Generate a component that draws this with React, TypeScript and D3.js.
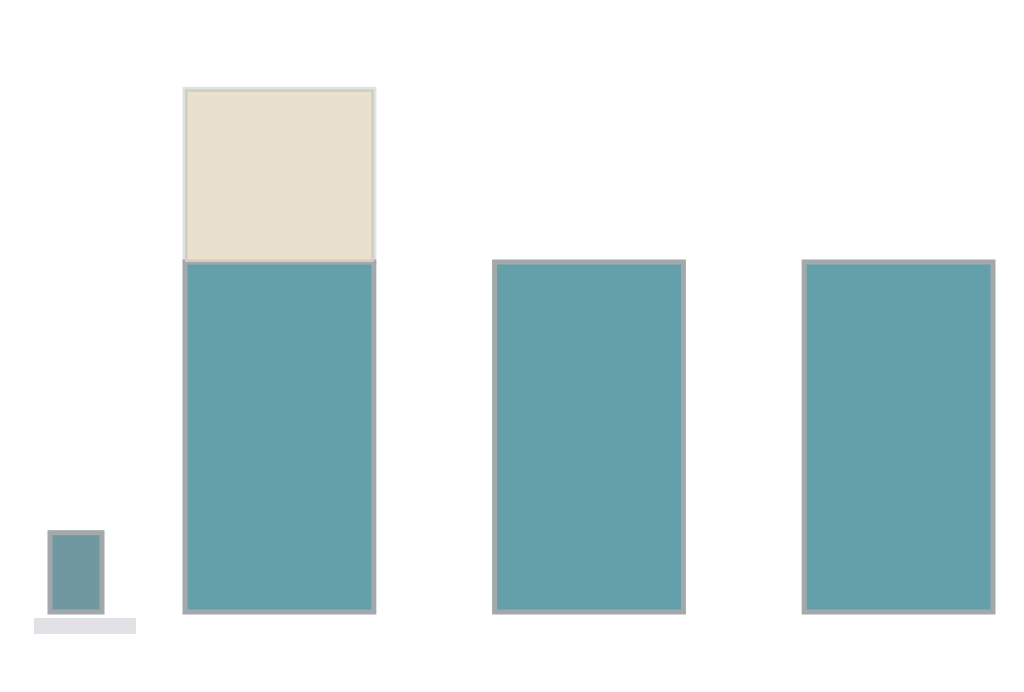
import React from "react";
import * as d3 from "d3";

const categories = ["B", "C", "D"];
const tealValues = [75, 75, 75];
const beigeValues = [37, 0, 0];
const smallCategories = ["A"];
const smallValues = [17];

const W = 1024;
const H = 692;
const TEAL = "#63a0aa";
const BEIGE = "#e9e0cd";
const STROKE = "#a3a9ab";

export default function App() {
  const y = d3.scaleLinear().domain([0, 120]).range([612, 52]);
  const x = d3
    .scaleBand<string>()
    .domain(categories)
    .range([185, 993])
    .paddingInner(0.39)
    .paddingOuter(0);
  const xs = d3.scaleBand<string>().domain(smallCategories).range([50, 102]).padding(0);

  return (
    <svg
      width={W}
      height={H}
      style={{ position: "absolute", left: 0, top: 0, background: "#fff" }}
    >
      {categories.map((c, i) => {
        const t = tealValues[i];
        const b = beigeValues[i];
        const x0 = x(c) as number;
        const bw = x.bandwidth();
        return (
          <g key={c}>
            <rect
              x={x0}
              y={y(t)}
              width={bw}
              height={y(0) - y(t)}
              fill={TEAL}
              stroke={STROKE}
              strokeWidth={5}
            />
            {b > 0 && (
              <rect
                x={x0}
                y={y(t + b)}
                width={bw}
                height={y(t) - y(t + b)}
                fill={BEIGE}
                stroke={STROKE}
                strokeOpacity={0.35}
                strokeWidth={5}
              />
            )}
          </g>
        );
      })}
      {smallCategories.map((c, i) => (
        <rect
          key={c}
          x={xs(c) as number}
          y={y(smallValues[i])}
          width={xs.bandwidth()}
          height={y(0) - y(smallValues[i])}
          fill="#6f98a0"
          stroke={STROKE}
          strokeWidth={5}
        />
      ))}
      <line x1={34} x2={136} y1={y(0) + 14} y2={y(0) + 14} stroke="#e2e2e6" strokeWidth={16} />
    </svg>
  );
}
